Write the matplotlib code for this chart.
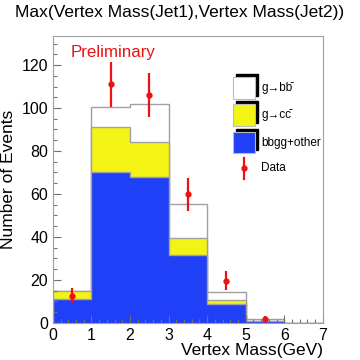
import numpy as np
import matplotlib.pyplot as plt
from matplotlib.patches import Rectangle
from matplotlib.lines import Line2D

plt.rcParams['font.family'] = ['Liberation Sans', 'DejaVu Sans']

edges = np.arange(0, 8)
other = np.array([11, 70, 68, 31.5, 9, 0.8, 0])    # bbgg+other
gcc = np.array([3.7, 21, 16, 8, 1.8, 0.2, 0])      # g->cc
gbb = np.array([0.3, 9.3, 18, 16, 3.5, 0.7, 0])    # g->bb

data_x = np.array([0.5, 1.5, 2.5, 3.5, 4.5, 5.5])
data_y = np.array([12.7, 111, 106, 59.8, 19.7, 1.7])
data_err = np.array([3.5, 10.5, 10.3, 7.8, 4.5, 1.3])

fig = plt.figure(figsize=(3.6, 3.6), dpi=100)
ax = fig.add_axes([0.147, 0.103, 0.75, 0.797])

blue = '#2040f8'
yellow = '#f4f414'
grey = '#a0a0a0'

lvl1 = other
lvl2 = other + gcc
lvl3 = other + gcc + gbb
ax.stairs(lvl3, edges, fill=True, color='white')
ax.stairs(lvl3, edges, color=grey, lw=1)
ax.stairs(lvl2, edges, fill=True, color=yellow)
ax.stairs(lvl2, edges, color=grey, lw=1)
ax.stairs(lvl1, edges, fill=True, color=blue)
ax.stairs(lvl1, edges, color=grey, lw=1)

ax.errorbar(data_x, data_y, yerr=data_err, fmt='o', color='#ee1111',
            ms=3.5, lw=1.6, capsize=0, zorder=5)

ax.set_xlim(0, 7)
ax.set_ylim(0, 133.5)
ax.set_xticks(range(8))
ax.set_xticks(np.arange(0, 7.01, 0.2), minor=True)
ax.set_yticks(range(0, 121, 20))
ax.set_yticks(range(0, 131, 5), minor=True)
ax.tick_params(direction='in', labelsize=11.5, length=6, width=0.8, color='#707070')
ax.tick_params(which='minor', direction='in', length=3, width=0.8, color='#707070')
for s in ax.spines.values():
    s.set_color(grey)

ax.set_ylabel('Number of Events', fontsize=12.5)
ax.set_xlabel('Vertex Mass(GeV)', fontsize=12.5, loc='right', labelpad=0)
fig.text(0.5, 0.965, 'Max(Vertex Mass(Jet1),Vertex Mass(Jet2))', ha='center',
         va='center', fontsize=12.5)
fig.text(0.195, 0.855, 'Preliminary', color='#ee1111', fontsize=12.2, va='center')

# legend (ROOT style with shadowed boxes)
W, H = 360.0, 360.0
def box(x0, y0, x1, y1, c):
    fig.patches.append(Rectangle((x0 / W + 3 / W, 1 - y1 / H + 3 / H),
                                 (x1 - x0) / W, (y1 - y0) / H,
                                 transform=fig.transFigure, color='black'))
    fig.patches.append(Rectangle((x0 / W, 1 - y1 / H), (x1 - x0) / W, (y1 - y0) / H,
                                 transform=fig.transFigure, facecolor=c,
                                 edgecolor='#bbbbbb', lw=0.8))

labels = ['g\u2192bb\u0304', 'g\u2192cc\u0304', 'bbgg+other']
box(233, 77, 255, 99, 'white')
box(233, 104, 255, 126, yellow)
box(233, 132, 255, 153, blue)
for yy, t in zip([88, 115, 143], labels):
    fig.text(261 / W, 1 - yy / H, t, fontsize=8.5, va='center')
fig.lines.append(Line2D([244 / W, 244 / W], [1 - 158 / H, 1 - 179 / H],
                        transform=fig.transFigure, color='#ee1111', lw=1.6))
fig.lines.append(Line2D([244 / W], [1 - 168 / H], transform=fig.transFigure,
                        color='#ee1111', marker='o', ms=3.5))
fig.text(261 / W, 1 - 168 / H, 'Data', fontsize=8.5, va='center')

fig.savefig('out.png', dpi=100)
